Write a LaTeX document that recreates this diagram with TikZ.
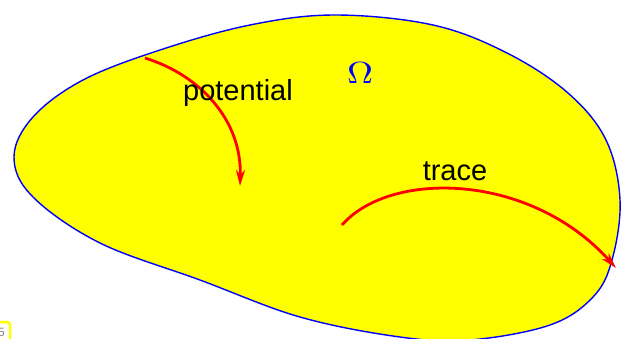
\documentclass[tikz,border=0pt]{standalone}
\usepackage{fontspec}
\setsansfont{Liberation Sans}
\usetikzlibrary{arrows.meta}
\definecolor{fillyellow}{RGB}{255,255,0}
\definecolor{lineblue}{RGB}{0,0,255}
\definecolor{arrowred}{RGB}{255,0,0}
\tikzset{
  blob/.style={draw=lineblue, fill=fillyellow, line width=1.4pt},
  redarrow/.style={draw=arrowred, line width=2.8pt, -{Stealth[length=16pt,width=9pt,inset=5pt]}},
  lbl/.style={font=\sffamily\fontsize{29}{34}\selectfont, text=black, inner sep=0pt, anchor=base},
}
\begin{document}
\begin{tikzpicture}[x=1pt,y=-1pt]
\clip (0,0) rectangle (626,338);
\fill[white] (0,0) rectangle (626,338);
\path[blob] plot[smooth cycle, tension=0.6] coordinates {
 (14,157) (33,117) (83,80) (160,50) (250,25) (335,15) (433,25) (507,53)
 (568,93) (606,140) (620,200) (612,260) (593,297) (550,325)
 (470,340) (400,337) (300,317) (200,280) (100,243) (33,197)};
\coordinate (ps) at (145,58);
\coordinate (pe) at (240,186);
\coordinate (ts) at (342,225);
\coordinate (te) at (616,268);
\draw[redarrow] (ps) .. controls (200,75) and (242,120) .. (pe);
\draw[redarrow] (ts) .. controls (390,170) and (530,172) .. (te);
\node[lbl] (pot) at (238,100) {potential};
\node[lbl] (tr) at (455,180) {trace};
\node[inner sep=0pt, anchor=base, text=lineblue, xscale=3.6, yscale=3.05, font=\fontsize{10}{12}\selectfont] (om) at (360,83) {$\Omega$};
\draw[fillyellow, line width=2.5pt, rounded corners=3pt] (-20,322) rectangle (10,350);
\node[anchor=base east, inner sep=0pt, text=gray, font=\sffamily\fontsize{12}{13}\selectfont] (pg) at (5,336) {5};
\end{tikzpicture}
\end{document}
